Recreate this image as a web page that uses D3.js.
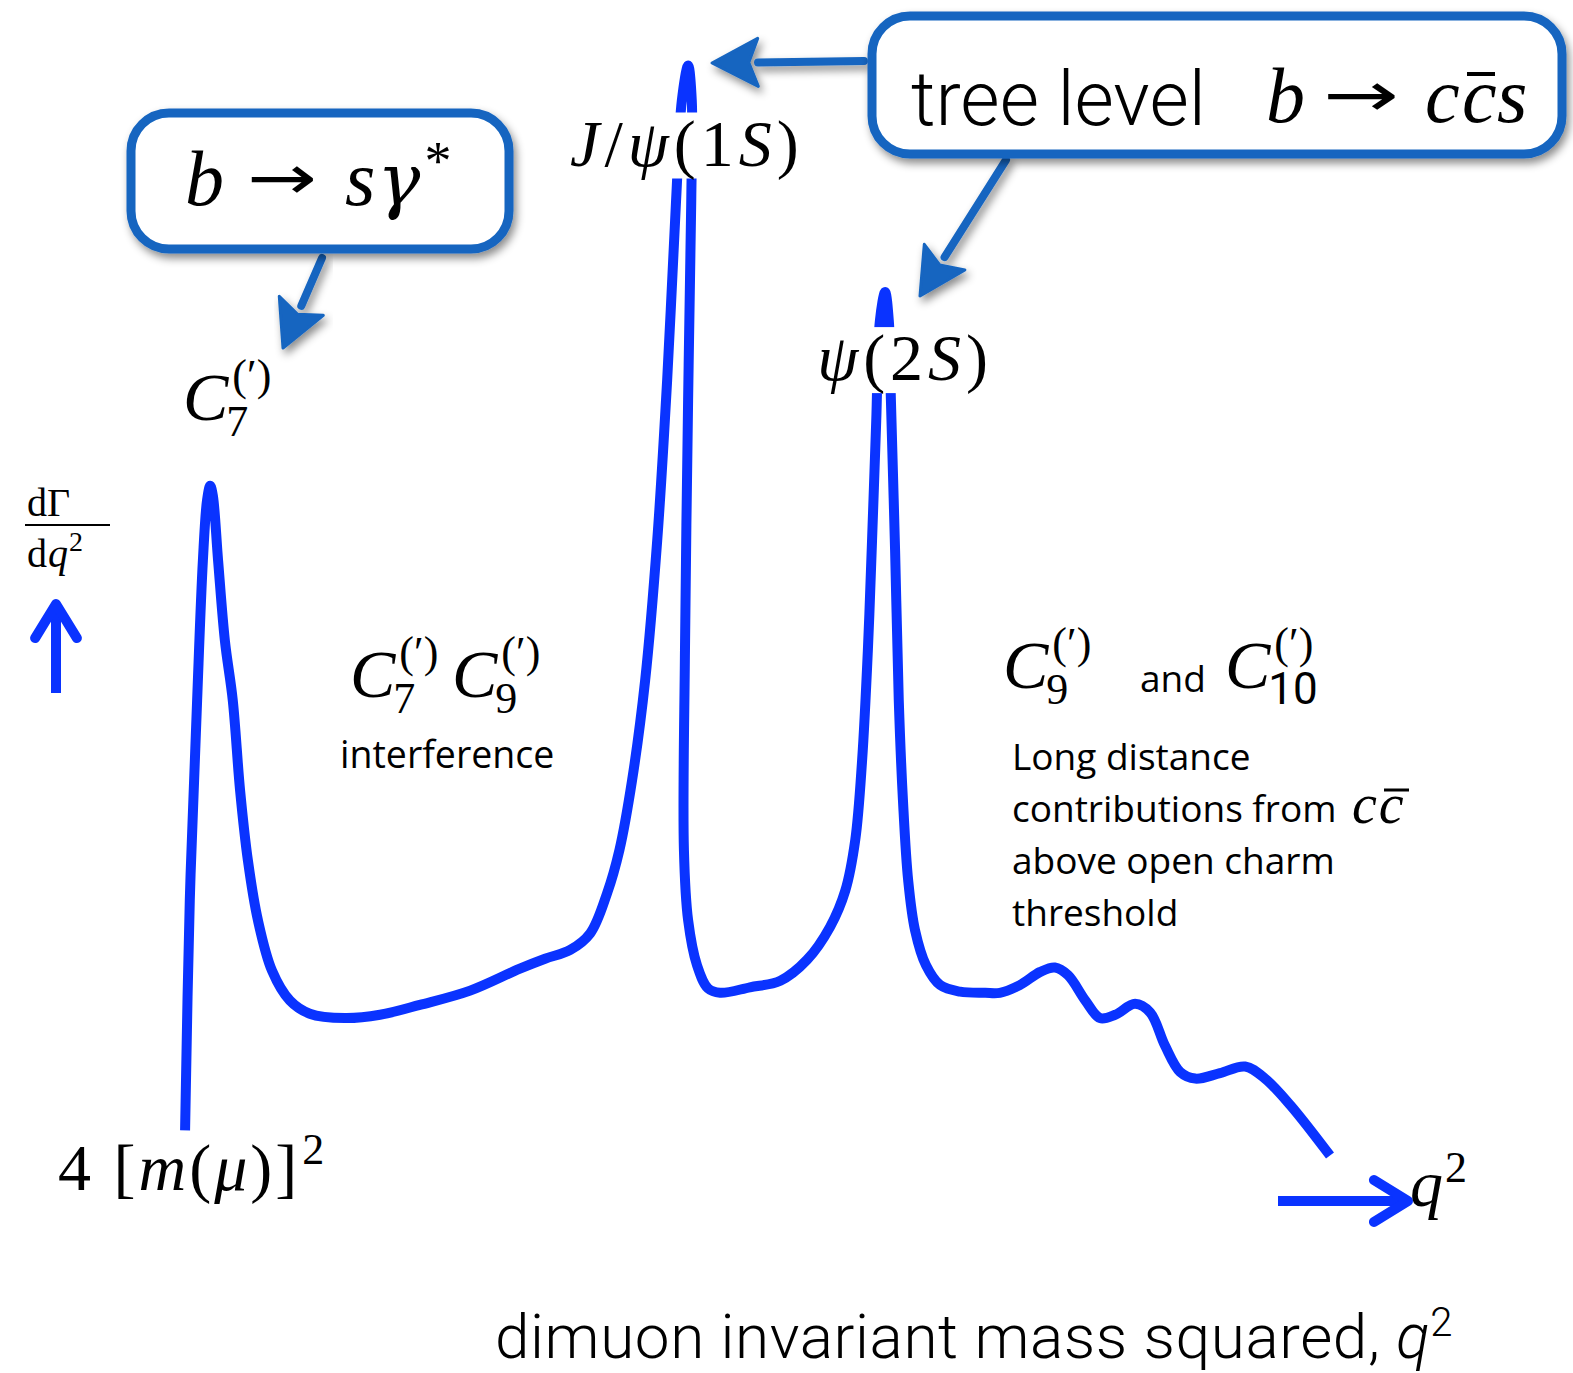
<!DOCTYPE html>
<html>
<head>
<meta charset="utf-8">
<script src="https://cdn.jsdelivr.net/npm/d3@7"></script>
<style>
  body { margin: 0; background: #fff; }
  svg { display: block; }
</style>
</head>
<body>
<script>
// Sketch of the B -> K* mu mu differential rate dGamma/dq^2 versus q^2 (GeV^2, schematic units)
const q2 = [0.03, 0.12, 0.26, 0.37, 0.45, 0.51, 0.56, 0.66, 0.79, 0.94, 1.08, 1.23, 1.42, 1.69, 2.03, 2.41,
  3.08, 3.75, 4.51, 5.47, 6.42, 6.90, 7.38, 7.76, 8.08, 8.32, 8.56, 8.81, 9.04, 9.23, 9.40, 9.51, 9.63, 9.70,
  9.69, 9.63, 9.57, 9.55, 9.63, 9.80, 10.01, 10.24, 10.81, 11.39, 11.90, 12.34, 12.63, 12.82, 12.95, 13.06,
  13.14, 13.22, 13.29, 13.39, 13.46, 13.50, 13.58, 13.65, 13.73, 13.83, 13.96, 14.17, 14.44, 14.82, 15.30,
  15.58, 15.96, 16.35, 16.63, 16.88, 17.21, 17.49, 17.78, 18.16, 18.45, 18.73, 19.02, 19.31, 19.78, 20.26,
  20.64, 21.12, 21.88];
const rate = [0.27, 2.36, 4.18, 5.45, 6.00, 6.13, 6.04, 5.45, 4.72, 4.18, 3.36, 2.72, 2.18, 1.72, 1.45, 1.33,
  1.29, 1.32, 1.41, 1.54, 1.74, 1.83, 1.91, 2.06, 2.42, 2.82, 3.45, 4.36, 5.63, 7.09, 8.72, 9.63, 9.95, 9.63,
  8.72, 6.91, 4.63, 2.82, 2.18, 1.77, 1.56, 1.52, 1.57, 1.63, 1.82, 2.12, 2.45, 2.91, 3.63, 4.63,
  5.63, 6.72, 7.63, 7.89, 7.63, 6.91, 5.54, 4.18, 3.27, 2.54, 2.09, 1.77, 1.59, 1.53, 1.52,
  1.52, 1.59, 1.71, 1.75, 1.68, 1.45, 1.29, 1.32, 1.42, 1.34, 1.04, 0.80, 0.74, 0.79, 0.85,
  0.74, 0.50, 0.04];

// Resonances labelled on the curve
const resonanceNames = ["J/ψ(1S)", "ψ(2S)"];
const resonanceQ2 = [9.63, 13.39];
const resonanceRate = [9.95, 7.89];

const W = 1573, H = 1373;
const CURVE = "#0a33ff";
const CALLOUT = "#1565c0";
const SERIF = "'Liberation Serif', 'DejaVu Serif', serif";
const GREEK = "'DejaVu Serif', 'Liberation Serif', serif";
const ARROWF = "'DejaVu Sans', sans-serif";
const HELV = "Roboto, 'Liberation Sans', sans-serif";
const BODY = "'Open Sans', Lato, sans-serif";

const svg = d3.select("body").append("svg").attr("width", W).attr("height", H);
const defs = svg.append("defs");
const shadow = defs.append("filter").attr("id", "shadow")
  .attr("x", "-10%").attr("y", "-20%").attr("width", "130%").attr("height", "160%");
shadow.append("feDropShadow").attr("dx", 3).attr("dy", 5).attr("stdDeviation", 4)
  .attr("flood-color", "#000").attr("flood-opacity", 0.45);

const x = d3.scaleLinear().domain([0, 22]).range([183.5, 1336.3]);
const y = d3.scaleLinear().domain([0, 10]).range([1160, 60]);

// the rate curve
const line = d3.line()
  .x(i => x(q2[i])).y(i => y(rate[i]))
  .curve(d3.curveCatmullRom.alpha(0.5));
svg.append("path")
  .attr("d", line(d3.range(q2.length)))
  .attr("fill", "none").attr("stroke", CURVE).attr("stroke-width", 10)
  .attr("stroke-linejoin", "round");

// text helpers
function txt(s, px, py, size, o = {}) {
  return svg.append("text").attr("x", px).attr("y", py)
    .attr("font-family", o.family || SERIF)
    .attr("font-size", size)
    .attr("font-style", o.italic ? "italic" : "normal")
    .attr("font-weight", o.weight || "normal")
    .attr("letter-spacing", o.ls || 0)
    .attr("fill", o.fill || "#000")
    .text(s);
}
function span(t, s, o = {}) {
  const ts = t.append("tspan").text(s)
    .attr("font-style", o.italic ? "italic" : "normal");
  if (o.family) ts.attr("font-family", o.family);
  if (o.size) ts.attr("font-size", o.size);
  if (o.dx !== undefined) ts.attr("dx", o.dx);
  if (o.dy !== undefined) ts.attr("dy", o.dy);
  if (o.weight) ts.attr("font-weight", o.weight);
  return ts;
}
function arrowGlyph(px, py, size, len) {
  return txt("→", px, py, size, { family: ARROWF })
    .attr("textLength", len).attr("lengthAdjust", "spacingAndGlyphs");
}

// resonance labels sit on white patches that hide the curve behind them
const resLabelOffset = [[-118, 100], [-68, 88]];
resonanceNames.forEach((name, i) => {
  const g = svg.append("g");
  const px = x(resonanceQ2[i]) + resLabelOffset[i][0];
  const py = y(resonanceRate[i]) + resLabelOffset[i][1];
  const rect = g.append("rect").attr("fill", "#fff");
  const t = g.append("text").attr("x", px).attr("y", py)
    .attr("font-family", SERIF).attr("font-size", 66).attr("letter-spacing", 5);
  if (i === 0) {
    span(t, "J", { italic: true });
    span(t, "/");
    span(t, "ψ", { italic: true });
    span(t, "(1");
    span(t, "S", { italic: true });
    span(t, ")");
  } else {
    span(t, "ψ", { italic: true });
    span(t, "(2");
    span(t, "S", { italic: true });
    span(t, ")");
  }
  const bb = t.node().getBBox();
  rect.attr("x", bb.x).attr("y", bb.y + 6).attr("width", bb.width).attr("height", bb.height - 8);
});

// y-axis label dGamma/dq^2 with arrow
txt("dΓ", 27, 516, 40);
svg.append("line").attr("x1", 25).attr("x2", 110).attr("y1", 525).attr("y2", 525)
  .attr("stroke", "#000").attr("stroke-width", 2);
const dq = txt("d", 27, 567, 40);
span(dq, "q", { italic: true, dx: 1 });
span(dq, "2", { size: 28, dy: -16, dx: 1 });

function chevronArrow(x1, y1, x2, y2, head) {
  const a = Math.atan2(y2 - y1, x2 - x1);
  const g = svg.append("g").attr("stroke", CURVE).attr("stroke-width", 10)
    .attr("stroke-linecap", "round").attr("fill", "none");
  g.append("line").attr("x1", x1).attr("y1", y1).attr("x2", x2 - 4 * Math.cos(a)).attr("y2", y2 - 4 * Math.sin(a))
    .attr("stroke-linecap", "butt");
  const p = [
    [x2 - head * Math.cos(a - 0.55), y2 - head * Math.sin(a - 0.55)],
    [x2, y2],
    [x2 - head * Math.cos(a + 0.55), y2 - head * Math.sin(a + 0.55)]
  ];
  g.append("path").attr("d", d3.line()(p)).attr("stroke-linejoin", "round");
}
chevronArrow(56, 693, 56, 604, 40);
chevronArrow(1278, 1201, 1408, 1201, 40);

// x-axis labels
const qq = txt("q", 1410, 1206, 66, { italic: true });
span(qq, "2", { size: 44, dy: -24, dx: 2 });
const lo = svg.append("text").attr("x", 58).attr("y", 1190)
  .attr("font-family", SERIF).attr("font-size", 66).attr("letter-spacing", 3);
span(lo, "4 [");
span(lo, "m", { italic: true });
span(lo, "(");
span(lo, "μ", { italic: true });
span(lo, ")]");
span(lo, "2", { size: 44, dy: -26, dx: 2 });

const bottom = svg.append("text").attr("x", 495).attr("y", 1358)
  .attr("font-family", HELV).attr("font-weight", 300).attr("font-size", 62).attr("letter-spacing", 0.6);
span(bottom, "dimuon invariant mass squared, ");
span(bottom, "q", { italic: true });
span(bottom, "2", { dy: -22, size: 40 });

// Wilson coefficient labels: C with stacked sub- and superscript
function coeff(px, py, sub, subSans) {
  const t = txt("C", px, py, 68, { italic: true });
  const s = span(t, sub, { size: 44, dy: 16, dx: -2 });
  if (subSans) s.attr("font-family", HELV);
  const w = s.node().getComputedTextLength();
  span(t, "(′)", { size: 44, dy: -46, dx: -w + 6 });
}
coeff(183, 420, "7");
coeff(350, 697, "7");
coeff(452, 697, "9");
coeff(1003, 688, "9");
txt("and", 1140, 692, 37, { family: BODY });
coeff(1225, 688, "10", true);

txt("interference", 340, 768, 37.5, { family: BODY });
const notes = ["Long distance", "contributions from ", "above open charm", "threshold"];
notes.forEach((s, i) => txt(s, 1012, 770 + i * 52, 37, { family: BODY }));
txt("cc", 1352, 823, 56, { italic: true, ls: 2 });
svg.append("line").attr("x1", 1384).attr("x2", 1409).attr("y1", 790).attr("y2", 790)
  .attr("stroke", "#000").attr("stroke-width", 3);

// callout boxes
function callout(bx, by, bw, bh) {
  svg.append("rect").attr("x", bx).attr("y", by).attr("width", bw).attr("height", bh)
    .attr("rx", 38).attr("ry", 38).attr("fill", "#fff")
    .attr("stroke", CALLOUT).attr("stroke-width", 9).attr("filter", "url(#shadow)");
}
function solidArrow(x1, y1, x2, y2, len, half) {
  const a = Math.atan2(y2 - y1, x2 - x1);
  const bx = x2 - len * Math.cos(a), by = y2 - len * Math.sin(a);
  const g = svg.append("g").attr("filter", "url(#shadow)");
  g.append("line").attr("x1", x1).attr("y1", y1).attr("x2", bx).attr("y2", by)
    .attr("stroke", CALLOUT).attr("stroke-width", 8).attr("stroke-linecap", "round");
  const nx = -Math.sin(a), ny = Math.cos(a);
  g.append("path").attr("d", d3.line()([
    [x2, y2], [bx + nx * half, by + ny * half], [bx + len * 0.2 * Math.cos(a), by + len * 0.2 * Math.sin(a)],
    [bx - nx * half, by - ny * half]
  ]) + "Z").attr("fill", CALLOUT).attr("stroke", CALLOUT).attr("stroke-width", 3).attr("stroke-linejoin", "round");
}
solidArrow(322, 258, 283, 348, 46, 24);
solidArrow(864, 61, 712, 63, 46, 24);
solidArrow(1006, 160, 920, 296, 46, 24);
callout(131, 113, 378, 136);
callout(872, 16, 690, 138);

// b -> s gamma*
txt("b", 185, 205, 78, { italic: true });
arrowGlyph(247, 199, 62, 70);
const sg = txt("s", 345, 205, 78, { italic: true });
span(sg, "γ", { italic: true, family: GREEK, size: 72, dx: 2 });
span(sg, "*", { size: 54, dy: -26, dx: 4 });

// tree level b -> c cbar s
txt("tree level", 911, 125, 76, { family: HELV, weight: 300 });
txt("b", 1266, 122, 78, { italic: true });
arrowGlyph(1323, 116, 62, 76);
txt("c", 1425, 122, 78, { italic: true });
txt("c", 1462, 122, 78, { italic: true });
txt("s", 1497, 122, 78, { italic: true });
svg.append("line").attr("x1", 1467).attr("x2", 1495).attr("y1", 74).attr("y2", 74)
  .attr("stroke", "#000").attr("stroke-width", 4);
</script>
</body>
</html>
